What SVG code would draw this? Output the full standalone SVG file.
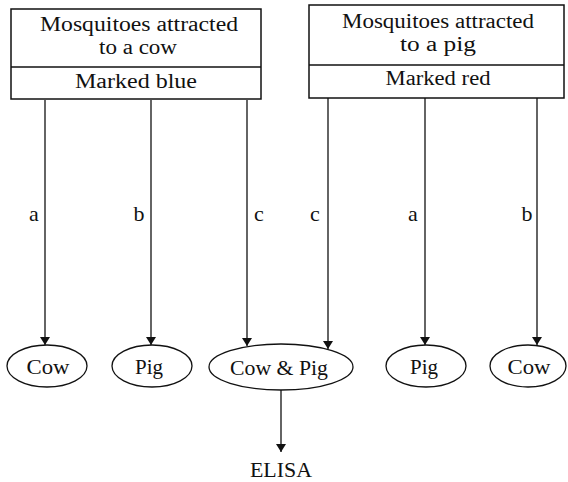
<svg xmlns="http://www.w3.org/2000/svg" width="568" height="482" viewBox="0 0 568 482">
<style>
text{font-family:'Liberation Serif','Times New Roman','DejaVu Serif','Noto Serif',serif;font-size:22px;fill:#111;text-anchor:middle}
.bt{font-size:20px}
.box{fill:#fff;stroke:#111;stroke-width:1.5}
.div{stroke:#111;stroke-width:1.5}
.ell{fill:#fff;stroke:#111;stroke-width:1.3}
.con{stroke:#111;stroke-width:1.3;fill:none}
</style>
<defs>
<marker id="ah" viewBox="0 0 8 10" refX="8" refY="5" markerWidth="8" markerHeight="10" markerUnits="userSpaceOnUse" orient="auto">
<path d="M0,0 L8,5 L0,10 Z" fill="#111"/>
</marker>
</defs>
<rect width="568" height="482" fill="#fff"/>
<g font-family="'Liberation Serif', 'DejaVu Serif', serif">
<g id="connectors">
<line class="con" x1="45" y1="100" x2="45" y2="345" marker-end="url(#ah)"/>
<line class="con" x1="151" y1="100" x2="151" y2="345" marker-end="url(#ah)"/>
<line class="con" x1="247" y1="100" x2="247" y2="346" marker-end="url(#ah)"/>
<line class="con" x1="328" y1="98" x2="328" y2="349" marker-end="url(#ah)"/>
<line class="con" x1="425" y1="98" x2="425" y2="345" marker-end="url(#ah)"/>
<line class="con" x1="537" y1="98" x2="537" y2="345" marker-end="url(#ah)"/>
<line class="con" x1="281" y1="390" x2="281" y2="452" marker-end="url(#ah)"/>
<text x="34" y="221">a</text>
<text x="139" y="221">b</text>
<text x="259" y="221">c</text>
<text x="315" y="221">c</text>
<text x="413" y="221">a</text>
<text x="527" y="221">b</text>
</g>
<g id="box-cow">
<rect class="box" x="11" y="9" width="250" height="90"/>
<line class="div" x1="11" y1="67" x2="261" y2="67"/>
<text class="bt" x="139" y="31" textLength="198" lengthAdjust="spacingAndGlyphs">Mosquitoes attracted</text>
<text class="bt" x="138" y="54" textLength="78" lengthAdjust="spacingAndGlyphs">to a cow</text>
<text class="bt" x="136" y="88" textLength="122" lengthAdjust="spacingAndGlyphs">Marked blue</text>
</g>
<g id="box-pig">
<rect class="box" x="309" y="5" width="255" height="93"/>
<line class="div" x1="309" y1="65" x2="564" y2="65"/>
<text class="bt" x="438" y="28" textLength="192" lengthAdjust="spacingAndGlyphs">Mosquitoes attracted</text>
<text class="bt" x="438" y="51" textLength="76" lengthAdjust="spacingAndGlyphs">to a pig</text>
<text class="bt" x="438" y="85" textLength="105" lengthAdjust="spacingAndGlyphs">Marked red</text>
</g>
<g id="cow-left">
<ellipse class="ell" cx="47" cy="366" rx="40" ry="21"/>
<text x="48" y="374" textLength="43" lengthAdjust="spacingAndGlyphs">Cow</text>
</g>
<g id="pig-left">
<ellipse class="ell" cx="152" cy="366" rx="40" ry="21"/>
<text x="149" y="374" textLength="28" lengthAdjust="spacingAndGlyphs">Pig</text>
</g>
<g id="cow-pig">
<ellipse class="ell" cx="281" cy="367" rx="72" ry="23"/>
<text x="279" y="375" textLength="98" lengthAdjust="spacingAndGlyphs">Cow &amp; Pig</text>
</g>
<g id="pig-right">
<ellipse class="ell" cx="426" cy="366" rx="40" ry="21"/>
<text x="424" y="374" textLength="28" lengthAdjust="spacingAndGlyphs">Pig</text>
</g>
<g id="cow-right">
<ellipse class="ell" cx="528" cy="366" rx="38" ry="21"/>
<text x="529" y="374" textLength="43" lengthAdjust="spacingAndGlyphs">Cow</text>
</g>
<g id="elisa">
<text x="281" y="477" textLength="62" lengthAdjust="spacingAndGlyphs">ELISA</text>
</g>
</g>
</svg>
